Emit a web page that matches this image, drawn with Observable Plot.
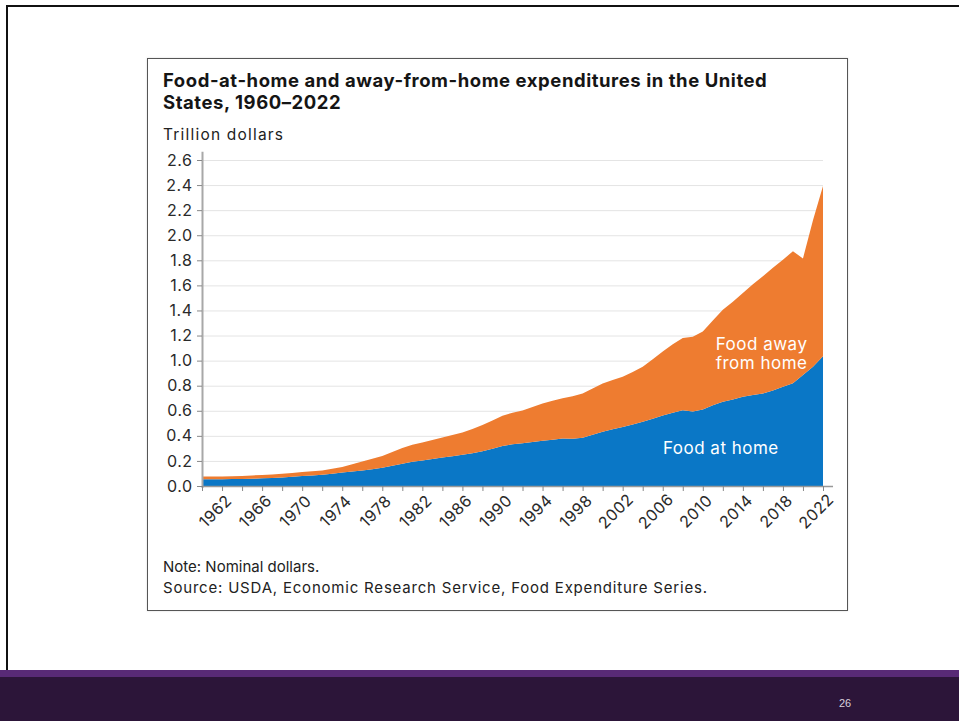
<!DOCTYPE html>
<html>
<head>
<meta charset="utf-8">
<script src="https://cdn.jsdelivr.net/npm/d3@7"></script>
<script src="https://cdn.jsdelivr.net/npm/@observablehq/plot@0.6"></script>
<style>
  html, body { margin: 0; padding: 0; background: #fff; }
  body { width: 959px; height: 721px; position: relative; overflow: hidden; font-family: Inter, "Liberation Sans", sans-serif; }
  .abs { position: absolute; white-space: nowrap; }
  #borderTop { left: 6px; top: 5px; width: 953px; height: 2px; background: #111; }
  #borderLeft { left: 6px; top: 5px; width: 2px; height: 665px; background: #111; }
  #stripe { left: 0; top: 670px; width: 959px; height: 7px; background: #582a76; }
  #footer { left: 0; top: 677px; width: 959px; height: 44px; background: #2c1539; }
  #pagenum { left: 839px; top: 697px; font-size: 11px; line-height: 12px; color: #d8d0dc; font-family: "Liberation Sans Narrow", "Liberation Sans", sans-serif; }
  #box { left: 147px; top: 58px; width: 699px; height: 551px; border: 1.5px solid #555; background: #fff; box-shadow: 0 0 2px rgba(0,0,0,0.15); }
  #title { left: 163px; top: 69px; font-size: 18.5px; line-height: 22px; font-weight: 700; color: #151515; letter-spacing: 0.55px; }
  #ylabel { left: 163px; top: 125px; font-size: 15.5px; line-height: 20px; color: #222; letter-spacing: 1.2px; }
  #note { left: 163px; top: 557px; font-size: 15px; line-height: 20px; color: #222; letter-spacing: 0px; }
  #source { left: 163px; top: 578px; font-size: 15px; line-height: 20px; color: #222; letter-spacing: 0.8px; }
  #chart { left: 147px; top: 140px; }
</style>
</head>
<body>
<div class="abs" id="borderTop"></div>
<div class="abs" id="borderLeft"></div>
<div class="abs" id="stripe"></div>
<div class="abs" id="footer"></div>
<div class="abs" id="pagenum">26</div>
<div class="abs" id="box"></div>
<div class="abs" id="title">Food-at-home and away-from-home expenditures in the United<br>States, 1960–2022</div>
<div class="abs" id="ylabel">Trillion dollars</div>
<div class="abs" id="chart"></div>
<div class="abs" id="note">Note: Nominal dollars.</div>
<div class="abs" id="source">Source: USDA, Economic Research Service, Food Expenditure Series.</div>
<script>
// Years 1960–2022
const years = [1960,1961,1962,1963,1964,1965,1966,1967,1968,1969,1970,1971,1972,1973,1974,1975,1976,1977,1978,1979,
  1980,1981,1982,1983,1984,1985,1986,1987,1988,1989,1990,1991,1992,1993,1994,1995,1996,1997,1998,1999,
  2000,2001,2002,2003,2004,2005,2006,2007,2008,2009,2010,2011,2012,2013,2014,2015,2016,2017,2018,2019,
  2020,2021,2022];

// Food at home, trillion dollars
const foodAtHome = [0.053,0.053,0.054,0.055,0.056,0.058,0.061,0.064,0.068,0.073,0.079,0.084,0.090,0.098,0.107,0.116,0.123,0.133,0.145,0.162,
  0.178,0.193,0.204,0.216,0.228,0.238,0.249,0.262,0.277,0.297,0.320,0.332,0.340,0.350,0.360,0.369,0.379,0.376,0.385,0.408,
  0.432,0.452,0.470,0.490,0.512,0.537,0.563,0.585,0.605,0.595,0.610,0.645,0.672,0.690,0.712,0.725,0.738,0.762,0.792,0.820,
  0.885,0.952,1.035];

// Food away from home, trillion dollars
const foodAwayFromHome = [0.022,0.022,0.022,0.023,0.024,0.026,0.027,0.028,0.029,0.031,0.033,0.033,0.034,0.039,0.045,0.058,0.073,0.085,0.095,0.110,
  0.125,0.135,0.142,0.151,0.159,0.168,0.177,0.192,0.209,0.225,0.240,0.253,0.263,0.280,0.298,0.311,0.320,0.339,0.353,0.370,
  0.386,0.394,0.402,0.420,0.440,0.473,0.509,0.545,0.575,0.595,0.622,0.675,0.733,0.780,0.828,0.885,0.934,0.978,1.013,1.052,
  0.930,1.168,1.357];

const seriesNames = ["Food at home", "Food away from home"];
const seriesColors = ["#0a77c6", "#ee7c30"];

const yTicks = [0,0.2,0.4,0.6,0.8,1.0,1.2,1.4,1.6,1.8,2.0,2.2,2.4,2.6];
const xMinorTicks = [1960,1962,1964,1966,1968,1970,1972,1974,1976,1978,1980,1982,1984,1986,1988,1990,1992,1994,1996,1998,2000,2002,2004,2006,2008,2010,2012,2014,2016,2018,2020,2022];
const xLabelYears = [1962,1966,1970,1974,1978,1982,1986,1990,1994,1998,2002,2006,2010,2014,2018,2022];

const seriesLabels = [
  {text: "Food at home", year: 2011.75, value: 0.30, anchor: "middle"},
  {text: "Food away\nfrom home", year: 2020.4, value: 1.065, anchor: "end"}
];

const rows = [];
years.forEach((yr, i) => rows.push({year: yr, series: seriesNames[0], value: foodAtHome[i]}));
years.forEach((yr, i) => rows.push({year: yr, series: seriesNames[1], value: foodAwayFromHome[i]}));

const tickFont = "Inter, 'Liberation Sans', sans-serif";

const chart = Plot.plot({
  width: 701,
  height: 410,
  marginLeft: 55,
  marginRight: 25,
  marginTop: 20,
  marginBottom: 64,
  style: {fontFamily: tickFont, background: "transparent", overflow: "visible", letterSpacing: "0.5px"},
  x: {domain: [1960, 2022]},
  y: {domain: [0, 2.6]},
  color: {domain: seriesNames, range: seriesColors},
  marks: [
    Plot.gridY(yTicks.slice(1), {stroke: "#e4e4e4", strokeOpacity: 1, strokeWidth: 1}),
    Plot.areaY(rows, {x: "year", y: "value", fill: "series", order: seriesNames}),
    Plot.ruleX([1960], {y1: -0.015, y2: 2.665, stroke: "#a8a8a8", strokeWidth: 2}),
    Plot.ruleY([0], {x1: 1960, x2: 2023, stroke: "#999", strokeWidth: 1.5}),
    Plot.axisY({ticks: yTicks, tickSize: 5, tickFormat: () => "", stroke: "#888", label: null}),
    Plot.axisX({ticks: xMinorTicks, tickSize: 5, tickFormat: () => "", stroke: "#888", label: null}),
    Plot.text(yTicks, {x: 1960, y: d => d, text: d => d.toFixed(1), textAnchor: "end", dx: -10, fill: "#2a2a2a", fontSize: 16}),
    Plot.text(xLabelYears, {x: d => d, y: 0, text: d => String(d), rotate: -45, textAnchor: "middle", dx: -7, dy: 25, fill: "#2a2a2a", fontSize: 16}),
    Plot.text(seriesLabels, {x: "year", y: "value", text: "text", textAnchor: "end", fill: "white", fontSize: 17, lineHeight: 1.12,
      filter: d => d.anchor === "end"}),
    Plot.text(seriesLabels, {x: "year", y: "value", text: "text", textAnchor: "middle", fill: "white", fontSize: 17,
      filter: d => d.anchor === "middle"})
  ]
});
document.getElementById("chart").appendChild(chart);
</script>
</body>
</html>
